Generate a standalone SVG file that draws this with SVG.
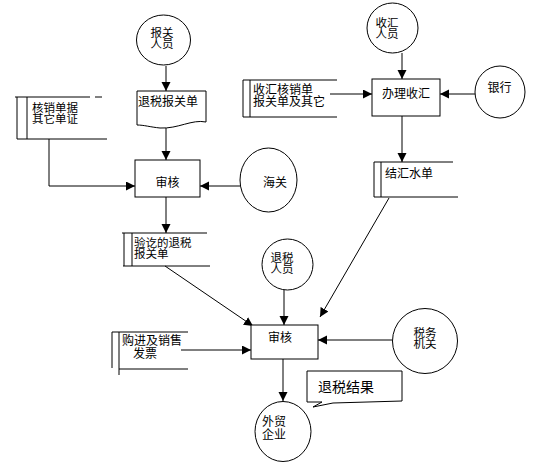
<svg xmlns="http://www.w3.org/2000/svg" width="536" height="465" viewBox="0 0 536 465">
<style>
.s{fill:none;stroke:#000;stroke-width:1}
.n{fill:#fff;stroke:#000;stroke-width:1}
.t{font-family:"Noto Sans CJK SC","Noto Sans CJK JP",sans-serif;font-size:12px;fill:#000}
.m{font-size:11.5px}
.b{font-size:14px}
.c{text-anchor:middle}
.e{fill:none;stroke:#000;stroke-width:1;marker-end:url(#a)}
</style>
<defs>
<marker id="a" markerUnits="userSpaceOnUse" markerWidth="10" markerHeight="10" refX="9" refY="4.5" orient="auto">
<path d="M0,0 L9,4.5 L0,9 Z" fill="#000"/>
</marker>
</defs>
<rect width="536" height="465" fill="#fff"/>
<g id="connectors">
<line class="e" x1="166" y1="66" x2="166" y2="91"/>
<line class="e" x1="166" y1="128" x2="166" y2="160"/>
<line class="e" x1="166" y1="197" x2="166" y2="233"/>
<polyline class="e" points="49,139 49,186 135,186"/>
<line class="e" x1="241" y1="186" x2="200" y2="186"/>
<line class="e" x1="402" y1="53" x2="402" y2="79"/>
<line class="e" x1="330" y1="94" x2="372" y2="94"/>
<line class="e" x1="475" y1="94" x2="440" y2="94"/>
<line class="e" x1="402" y1="116" x2="402" y2="162"/>
<line class="e" x1="389" y1="198" x2="320" y2="317"/>
<line class="e" x1="165" y1="266" x2="253" y2="326"/>
<line class="e" x1="284" y1="290" x2="284" y2="325"/>
<line class="e" x1="181" y1="350" x2="251" y2="350"/>
<line class="e" x1="392" y1="340" x2="318" y2="340"/>
<line class="e" x1="283" y1="359" x2="283" y2="401"/>
</g>
<g id="n_baoguan_ry">
<ellipse class="n" cx="163.5" cy="40" rx="27" ry="25"/>
<text class="t m c" x="162" y="37">报关<tspan x="162" dy="11">人员</tspan></text>
</g>
<g id="n_tuishui_bgd">
<path class="n" d="M137,91 H206 V122 C192,119 178,129 160,128 C150,127 144,125 137,125 Z"/>
<text class="t" x="138" y="106">退税报关单</text>
</g>
<g id="n_hexiao_store">
<path class="s" d="M15,97 H90 M95,97 H102 M17,97 V139 M27,97 V139 M17,139 H107"/>
<text class="t m" x="32" y="112">核销单据<tspan x="32" dy="11">其它单证</tspan></text>
</g>
<g id="n_shenhe1">
<rect class="n" x="135" y="160" width="65" height="37"/>
<text class="t c" x="167.5" y="187">审核</text>
</g>
<g id="n_haiguan">
<ellipse class="n" cx="268.5" cy="180" rx="28.5" ry="32"/>
<text class="t c" x="275" y="187">海关</text>
</g>
<g id="n_shouhui_ry">
<ellipse class="n" cx="392.5" cy="28" rx="25.5" ry="25"/>
<text class="t m c" x="387" y="27">收汇<tspan x="387" dy="10.5">人员</tspan></text>
</g>
<g id="n_shouhui_store">
<path class="s" d="M243,80 V117 M250,80 V117 M243,80 H337 M243,117 H337"/>
<text class="t" x="253" y="94">收汇核销单<tspan x="253" dy="12">报关单及其它</tspan></text>
</g>
<g id="n_banli">
<rect class="n" x="372" y="79" width="68" height="37"/>
<text class="t c" x="406" y="98">办理收汇</text>
</g>
<g id="n_yinhang">
<ellipse class="n" cx="500" cy="92" rx="25" ry="26"/>
<text class="t c" x="499.5" y="92">银行</text>
</g>
<g id="n_jiehui_store">
<path class="s" d="M374,162 V197 M381,162 V197 M374,162 H453 M374,197 H458"/>
<text class="t" x="385" y="178">结汇水单</text>
</g>
<g id="n_yanqi_store">
<path class="s" d="M124,233 V266 M132,233 V266 M122,233 H207 M123,266 H210"/>
<text class="t m" x="134" y="247">验讫的退税<tspan x="134" dy="11">报关单</tspan></text>
</g>
<g id="n_tuishui_ry">
<ellipse class="n" cx="287.5" cy="264.5" rx="25.5" ry="25.5"/>
<text class="t m c" x="282" y="262">退税<tspan x="282" dy="11">人员</tspan></text>
</g>
<g id="n_goujin_store">
<path class="s" d="M112,332 V368 M119,332 V375 M112,332 H188 M119,369 H188"/>
<text class="t" x="122" y="345">购进及销售<tspan x="133" dy="12.5">发票</tspan></text>
</g>
<g id="n_shenhe2">
<rect class="n" x="251" y="325" width="67" height="34"/>
<text class="t c" x="280" y="342">审核</text>
</g>
<g id="n_shuiwu">
<ellipse class="n" cx="425" cy="341" rx="32.5" ry="32.5"/>
<text class="t m c" x="425" y="337">税务<tspan x="425" dy="11">机关</tspan></text>
</g>
<g id="n_result">
<path class="n" d="M307,371 H402 V401 L333,403 L313,407 L322,402 H307 Z"/>
<text class="t b" x="318" y="392">退税结果</text>
</g>
<g id="n_waimao">
<ellipse class="n" cx="283" cy="431.5" rx="28" ry="30"/>
<text class="t" x="262" y="426">外贸<tspan x="262" dy="13">企业</tspan></text>
</g>
</svg>
